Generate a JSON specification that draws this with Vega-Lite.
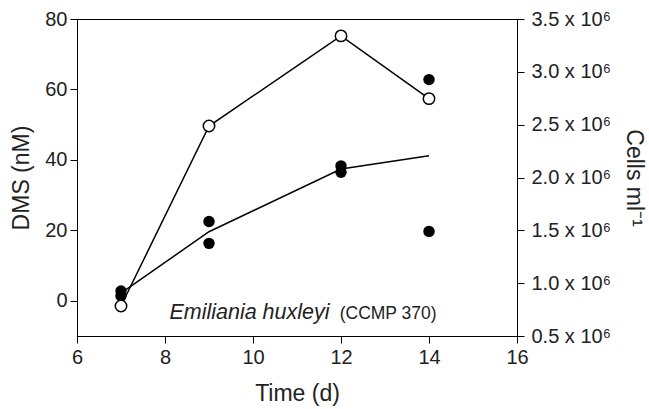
{
  "$schema": "https://vega.github.io/schema/vega-lite/v6.json",
  "width": 440,
  "height": 317,
  "autosize": {"type": "none"},
  "padding": {"left": 77, "top": 19, "right": 132, "bottom": 73},
  "background": "white",
  "config": {
    "font": "Liberation Sans",
    "view": {"stroke": "black", "strokeWidth": 1},
    "axis": {
      "grid": false,
      "domainColor": "black",
      "tickColor": "black",
      "labelColor": "#222",
      "titleColor": "#222",
      "labelFont": "Liberation Sans",
      "titleFont": "Liberation Sans",
      "labelFontSize": 20,
      "titleFontSize": 23,
      "titleFontWeight": "normal",
      "tickSize": 7,
      "domainWidth": 1,
      "tickWidth": 1
    }
  },
  "datasets": {
    "dms": [
      {"t": 7, "dms": 2.8},
      {"t": 7, "dms": 1.4},
      {"t": 9, "dms": 22.5},
      {"t": 9, "dms": 16.3},
      {"t": 12, "dms": 38.3},
      {"t": 12, "dms": 36.5},
      {"t": 14, "dms": 62.8},
      {"t": 14, "dms": 19.7}
    ],
    "mean": [
      {"t": 7, "dms": 2.2},
      {"t": 9, "dms": 19.6},
      {"t": 12, "dms": 37.4},
      {"t": 14, "dms": 41.2}
    ],
    "cells": [
      {"t": 7, "cells": 784000},
      {"t": 9, "cells": 2487000},
      {"t": 12, "cells": 3340000},
      {"t": 14, "cells": 2746000}
    ],
    "labels": [
      {"t": 8.1, "dms": -5.1, "label": "Emiliania huxleyi", "kind": "species"},
      {"t": 11.97, "dms": -5.1, "label": "(CCMP 370)", "kind": "strain"}
    ]
  },
  "encoding": {
    "x": {
      "field": "t",
      "type": "quantitative",
      "scale": {"domain": [6, 16], "nice": false, "zero": false},
      "axis": {"values": [6, 8, 10, 12, 14, 16], "title": "Time (d)", "labelPadding": 4, "titlePadding": 15, "labelFlush": false}
    }
  },
  "layer": [
    {
      "encoding": {
        "y": {
          "field": "dms",
          "type": "quantitative",
          "scale": {"domain": [-10, 80], "nice": false, "zero": false},
          "axis": {"orient": "left", "values": [0, 20, 40, 60, 80], "title": "DMS (nM)", "labelPadding": 3, "titlePadding": 11, "labelFlush": false}
        }
      },
      "layer": [
        {
          "data": {"name": "mean"},
          "mark": {"type": "line", "color": "black", "strokeWidth": 1.5}
        },
        {
          "data": {"name": "dms"},
          "mark": {"type": "point", "shape": "circle", "filled": true, "color": "black", "size": 130, "opacity": 1}
        },
        {
          "data": {"name": "labels"},
          "transform": [{"filter": "datum.kind == 'species'"}],
          "mark": {"type": "text", "align": "left", "baseline": "alphabetic", "fontStyle": "italic", "fontSize": 21.5, "color": "#222"},
          "encoding": {"text": {"field": "label"}}
        },
        {
          "data": {"name": "labels"},
          "transform": [{"filter": "datum.kind == 'strain'"}],
          "mark": {"type": "text", "align": "left", "baseline": "alphabetic", "fontSize": 17.5, "color": "#222"},
          "encoding": {"text": {"field": "label"}}
        }
      ]
    },
    {
      "data": {"name": "cells"},
      "encoding": {
        "y": {
          "field": "cells",
          "type": "quantitative",
          "scale": {"domain": [500000, 3500000], "nice": false, "zero": false},
          "axis": {
            "orient": "right",
            "values": [500000, 1000000, 1500000, 2000000, 2500000, 3000000, 3500000],
            "labelExpr": "format(datum.value / 1000000, '.1f') + ' x 10⁶'",
            "title": "Cells ml⁻¹",
            "labelPadding": 7,
            "titlePadding": 11,
            "labelFlush": false
          }
        }
      },
      "layer": [
        {"mark": {"type": "line", "color": "black", "strokeWidth": 1.5}},
        {"mark": {"type": "point", "shape": "circle", "filled": true, "fill": "white", "stroke": "black", "strokeWidth": 1.5, "size": 130, "opacity": 1}}
      ]
    }
  ],
  "resolve": {"scale": {"y": "independent"}}
}
